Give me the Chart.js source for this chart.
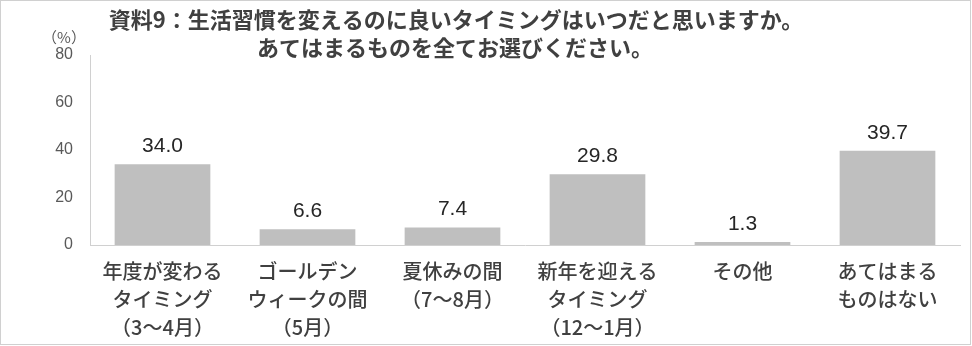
<!DOCTYPE html>
<html lang="ja">
<head>
    <meta charset="UTF-8">
    <title>資料9</title>
    <script src="https://cdn.jsdelivr.net/npm/chart.js"></script>
    <style>
        * { margin: 0; padding: 0; box-sizing: border-box; }
        body { background: #fff; width: 972px; height: 346px; overflow: hidden; }
        canvas { display: block; }
    </style>
</head>
<body>
    <canvas id="chart" width="972" height="346"></canvas>

    <script>
        // データ
        const categories = [
            ["年度が変わる", "タイミング", "（3～4月）"],
            ["ゴールデン", "ウィークの間", "（5月）"],
            ["夏休みの間", "（7～8月）"],
            ["新年を迎える", "タイミング", "（12～1月）"],
            ["その他"],
            ["あてはまる", "ものはない"]
        ];
        const values = [34.0, 6.6, 7.4, 29.8, 1.3, 39.7];
        const titleLines = [
            "資料9：生活習慣を変えるのに良いタイミングはいつだと思いますか。",
            "あてはまるものを全てお選びください。"
        ];
        const yTicks = [0, 20, 40, 60, 80];
        const yUnit = "（%）";

        const jpFont = "'Noto Sans CJK JP', 'Noto Sans', sans-serif";
        const numFont = "'Liberation Sans Narrow', 'Liberation Sans', Arial, sans-serif";

        // タイトル・単位・数値ラベル・枠線
        const decorPlugin = {
            id: 'decor',
            afterDraw(chart) {
                const ctx = chart.ctx;
                ctx.save();
                ctx.textAlign = 'center';
                ctx.textBaseline = 'middle';

                ctx.fillStyle = '#404040';
                ctx.font = "bold 22px " + jpFont;
                ctx.fillText(titleLines[0], 456, 20);
                ctx.fillText(titleLines[1], 455, 48);

                ctx.fillStyle = '#595959';
                ctx.font = "15px " + jpFont;
                ctx.fillText(yUnit, 64, 37);

                ctx.fillStyle = '#262626';
                ctx.font = "21px " + numFont;
                chart.getDatasetMeta(0).data.forEach((bar, i) => {
                    ctx.fillText(values[i].toFixed(1), bar.x, bar.y - 18);
                });

                ctx.strokeStyle = '#d0d0d0';
                ctx.lineWidth = 1;
                ctx.strokeRect(0.5, 0.5, 970, 344);
                ctx.restore();
            }
        };

        new Chart(document.getElementById("chart"), {
            type: 'bar',
            data: {
                labels: categories,
                datasets: [{
                    data: values,
                    backgroundColor: '#bfbfbf',
                    barPercentage: 0.66,
                    categoryPercentage: 1
                }]
            },
            options: {
                responsive: false,
                animation: false,
                devicePixelRatio: 1,
                layout: { padding: { top: 55, right: 12, left: 0, bottom: 0 } },
                plugins: {
                    legend: { display: false },
                    tooltip: { enabled: false }
                },
                scales: {
                    x: {
                        grid: { display: false, drawTicks: false },
                        border: { color: '#d0d0d0', width: 1 },
                        ticks: {
                            padding: 12,
                            maxRotation: 0,
                            autoSkip: false,
                            color: '#404040',
                            font: { family: jpFont, size: 20, weight: '500', lineHeight: '28px' }
                        },
                        afterFit: s => { s.height = 101; }
                    },
                    y: {
                        min: 0,
                        max: 80,
                        afterBuildTicks: s => { s.ticks = yTicks.map(v => ({ value: v })); },
                        grid: { display: false, drawTicks: false },
                        border: { color: '#d0d0d0', width: 1 },
                        ticks: {
                            padding: 17,
                            color: '#595959',
                            font: { family: numFont, size: 16 }
                        },
                        afterFit: s => { s.width = 90; }
                    }
                }
            },
            plugins: [decorPlugin]
        });
    </script>
</body>
</html>
